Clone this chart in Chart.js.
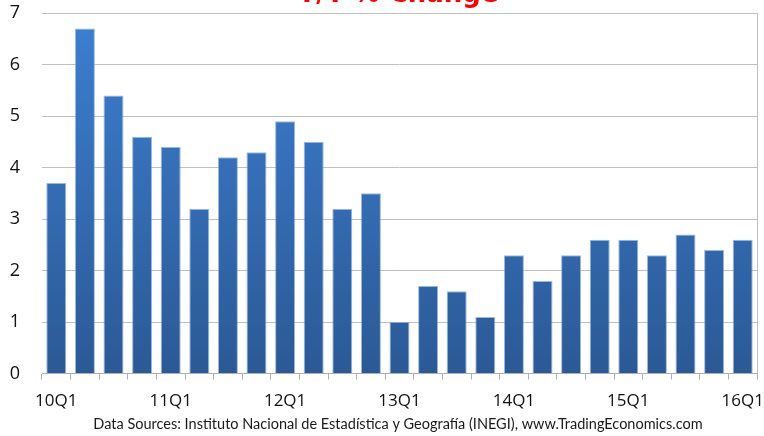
<!DOCTYPE html>
<html>
<head>
<meta charset="utf-8">
<script src="https://cdn.jsdelivr.net/npm/chart.js@4/dist/chart.umd.min.js"></script>
<style>
  html, body { margin: 0; padding: 0; background: #fff; }
  #wrap { position: relative; width: 764px; height: 436px; overflow: hidden; }
  /* canvas is shifted up so the title is cut like in the original,
     and a bit wider so the centred texts sit where the original has them */
  #box { position: absolute; left: 0; top: -22px; width: 796px; height: 458px; }
</style>
</head>
<body>
<div id="wrap"><div id="box"><canvas id="chart"></canvas></div></div>
<script>
const quarters = [
  '10Q1', '10Q2', '10Q3', '10Q4',
  '11Q1', '11Q2', '11Q3', '11Q4',
  '12Q1', '12Q2', '12Q3', '12Q4',
  '13Q1', '13Q2', '13Q3', '13Q4',
  '14Q1', '14Q2', '14Q3', '14Q4',
  '15Q1', '15Q2', '15Q3', '15Q4',
  '16Q1'
];
const yoyChange = [
  3.7, 6.7, 5.4, 4.6,
  4.4, 3.2, 4.2, 4.3,
  4.9, 4.5, 3.2, 3.5,
  1.0, 1.7, 1.6, 1.1,
  2.3, 1.8, 2.3, 2.6,
  2.6, 2.3, 2.7, 2.4,
  2.6
];
const shownLabels = ['10Q1', '11Q1', '12Q1', '13Q1', '14Q1', '15Q1', '16Q1'];
const yTicks = [0, 1, 2, 3, 4, 5, 6, 7];

const titleText = 'Y/Y % Change';
const sourceText = 'Data Sources: Instituto Nacional de Estadística y Geografía (INEGI), www.TradingEconomics.com';

const ctx = document.getElementById('chart').getContext('2d');

function barFill(context) {
  const area = context.chart.chartArea;
  if (!area) return '#3470b8';
  const g = context.chart.ctx.createLinearGradient(0, area.top, 0, area.bottom);
  g.addColorStop(0, '#3d7fd1');
  g.addColorStop(1, '#2b5995');
  return g;
}

new Chart(ctx, {
  type: 'bar',
  data: {
    labels: quarters,
    datasets: [{
      label: 'Y/Y % Change',
      data: yoyChange,
      backgroundColor: barFill,
      borderColor: 'rgba(110,155,215,0.7)',
      borderWidth: 1,
      barPercentage: 0.7,
      categoryPercentage: 1.0
    }]
  },
  options: {
    responsive: true,
    maintainAspectRatio: false,
    animation: false,
    layout: { padding: 0 },
    plugins: {
      legend: { display: false },
      tooltip: { enabled: false },
      title: {
        display: true,
        text: titleText,
        color: '#ff0000',
        font: { family: 'DejaVu Sans', size: 26, weight: 'bold', lineHeight: 1.35 },
        padding: 0
      },
      subtitle: {
        display: true,
        position: 'bottom',
        text: sourceText,
        color: '#1a1a1a',
        font: { family: 'Lato', size: 14.5 },
        padding: { top: 6, bottom: 3 }
      }
    },
    scales: {
      x: {
        offset: true,
        afterFit: scale => {
          scale.height = 36;
          scale.paddingLeft = 0;
          // keeps the plot's right edge at 757 while the canvas is 796 wide
          scale.paddingRight = 39;
        },
        grid: {
          offset: true,
          display: true,
          drawOnChartArea: true,
          // only the right edge line is visible inside the plot
          color: c => c.index === undefined ? '#c0c0c0' : 'rgba(0,0,0,0)',
          tickColor: '#b0b0b0',
          tickLength: 6
        },
        border: { display: true, color: '#b0b0b0' },
        ticks: {
          autoSkip: false,
          maxRotation: 0,
          padding: 11,
          color: '#111',
          font: { family: 'Open Sans', size: 17 },
          callback: function (value) {
            const q = this.getLabelForValue(value);
            return shownLabels.includes(q) ? q : '';
          }
        }
      },
      y: {
        min: yTicks[0],
        max: yTicks[yTicks.length - 1],
        afterFit: scale => { scale.width = 42; },
        afterBuildTicks: scale => { scale.ticks = yTicks.map(v => ({ value: v })); },
        grid: { color: '#c0c0c0', drawTicks: false },
        border: { display: false },
        ticks: {
          padding: 22,
          color: '#111',
          font: { family: 'Open Sans', size: 18 }
        }
      }
    }
  }
});
</script>
</body>
</html>
